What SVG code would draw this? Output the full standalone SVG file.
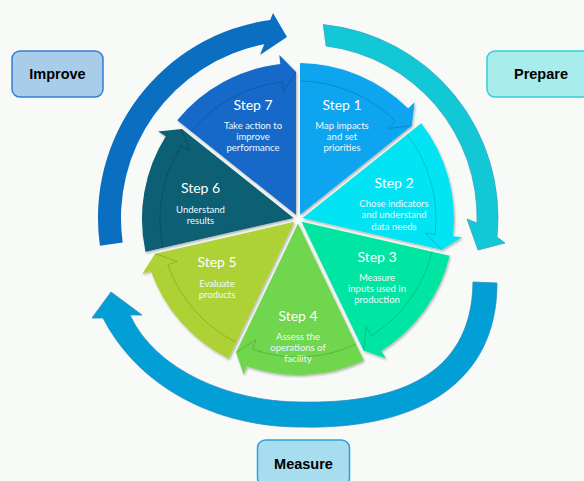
<svg xmlns="http://www.w3.org/2000/svg" width="584" height="481" viewBox="0 0 584 481">
<style>
.title{font-family:Lato,"Open Sans","Liberation Sans",sans-serif;font-size:14px;fill:#ffffff;text-anchor:middle}
.desc{font-family:Lato,"Open Sans","Liberation Sans",sans-serif;font-size:9.5px;fill:#eef8ff;text-anchor:middle}
.lbl{font-family:"Liberation Sans",Arial,sans-serif;font-weight:700;font-size:14.5px;fill:#000000;text-anchor:middle}
.band{fill:none;stroke:#000000;stroke-opacity:0.16;stroke-width:1}
.wedge{filter:url(#sh)}
</style>
<defs>
<filter id="sh" x="-10%" y="-10%" width="120%" height="120%">
<feDropShadow dx="1" dy="1.5" stdDeviation="1.2" flood-color="#000000" flood-opacity="0.3"/>
</filter>
</defs>
<rect width="584" height="481" fill="#f8faf7"/>

<g id="connectors">
<path id="arrow-improve" d="M99.9,245.8 A200,200 0 0 1 270.2,19.9 L273,13 L287,37 L260,55 L264.2,44.3 A177,177 0 0 0 122.7,242.6 Z" fill="#0b6fc1"/>
<path id="arrow-prepare" d="M323.2,24.6 A194,194 0 0 1 497,237 L505,243 L478,250 L467,219 L477,223 A173,173 0 0 0 326.1,46 Z" fill="#13c8d6" stroke="#3aa6c2" stroke-width="0.8"/>
<path id="arrow-measure" d="M497,283 C497,385 415,430 300,427 C220,427 140,390 103,318 L92,318 L111,292 L142,315 L130,315 C155,370 230,402 300,402 C390,404 472,380 473,282 Z" fill="#019fd6" stroke="#2a8cc2" stroke-width="0.8"/>
</g>

<g id="step1">
<path class="wedge" d="M300,214.85 L300,63 A156,156 0 0 1 408.17,108.55 L414.52,102.18 L411.69,125.8 Z" fill="#08a5ef"/>
<path class="band" d="M300,81 A138,138 0 0 1 395.46,121.3 L388.39,128.38 L411.69,125.8"/>
<text class="title" x="342" y="110">Step 1</text>
<text class="desc" x="342" y="129">Map impacts</text>
<text class="desc" x="342" y="140.3">and set</text>
<text class="desc" x="342" y="151">priorities</text>
</g>

<g id="step2">
<path class="wedge" d="M302.49,217.97 L421.19,123.29 A156,156 0 0 1 453.04,236.27 L461.99,237.27 L441.75,249.76 Z" fill="#00e4f3"/>
<path class="band" d="M407.13,134.53 A138,138 0 0 1 435.15,234.28 L425.21,233.17 L441.75,249.76"/>
<text class="title" x="394" y="188">Step 2</text>
<text class="desc" x="394" y="207.3">Chose indicators</text>
<text class="desc" x="394" y="218.3">and understand</text>
<text class="desc" x="394" y="229.5">data needs</text>
</g>

<g id="step3">
<path class="wedge" d="M301.6,221.87 L449.64,255.65 A156,156 0 0 1 381.16,350.99 L385.96,358.61 L363.58,350.57 Z" fill="#06e6a2"/>
<path class="band" d="M432.08,251.65 A138,138 0 0 1 371.57,335.76 L366.24,327.3 L363.58,350.57"/>
<text class="title" x="377" y="262">Step 3</text>
<text class="desc" x="377" y="281">Measure</text>
<text class="desc" x="377" y="292.2">inputs used in</text>
<text class="desc" x="377" y="303.3">production</text>
</g>

<g id="step4">
<path class="wedge" d="M298,223.61 L363.88,360.41 A156,156 0 0 1 246.66,366.31 L243.7,374.81 L236.02,352.3 Z" fill="#70d64e"/>
<path class="band" d="M356.07,344.19 A138,138 0 0 1 252.58,349.31 L255.88,339.87 L236.02,352.3"/>
<text class="title" x="298" y="321">Step 4</text>
<text class="desc" x="298" y="340">Assess the</text>
<text class="desc" x="298" y="351">operations of</text>
<text class="desc" x="298" y="362.3">facility</text>
</g>

<g id="step5">
<path class="wedge" d="M294.4,221.87 L228.53,358.68 A156,156 0 0 1 150.81,270.71 L142.32,273.7 L155.15,253.65 Z" fill="#aed236"/>
<path class="band" d="M236.33,342.45 A138,138 0 0 1 167.8,264.75 L177.23,261.43 L155.15,253.65"/>
<text class="title" x="217" y="267">Step 5</text>
<text class="desc" x="217" y="287.3">Evaluate</text>
<text class="desc" x="217" y="298.3">products</text>
</g>

<g id="step6">
<path class="wedge" d="M293.51,217.97 L145.48,251.77 A156,156 0 0 1 165.81,136.16 L158.18,131.38 L181.83,128.92 Z" fill="#075e73"/>
<path class="band" d="M163.03,247.75 A138,138 0 0 1 181.06,145.72 L189.53,151.03 L181.83,128.92"/>
<text class="title" x="200.5" y="193.3">Step 6</text>
<text class="desc" x="200.5" y="213.3">Understand</text>
<text class="desc" x="200.5" y="224.3">results</text>
</g>

<g id="step7">
<path class="wedge" d="M296,214.85 L177.27,120.21 A156,156 0 0 1 280.34,64 L279.32,55.06 L296,72.01 Z" fill="#1469c8"/>
<path class="band" d="M191.37,131.4 A138,138 0 0 1 282.38,81.89 L283.51,91.82 L296,72.01"/>
<text class="title" x="253" y="110">Step 7</text>
<text class="desc" x="253" y="129">Take action to</text>
<text class="desc" x="253" y="140.3">improve</text>
<text class="desc" x="253" y="151">performance</text>
</g>

<g id="improve">
<rect x="12" y="51" width="91" height="46" rx="8" fill="#a9cce9" stroke="#2f80d2" stroke-width="1.5"/>
<text class="lbl" x="57.5" y="79">Improve</text>
</g>
<g id="prepare">
<rect x="487" y="51" width="108" height="46" rx="8" fill="#a9ecec" stroke="#2fd0dc" stroke-width="1.5"/>
<text class="lbl" x="541" y="78.5">Prepare</text>
</g>
<g id="measure">
<rect x="257.5" y="440" width="92" height="46" rx="8" fill="#a8dcef" stroke="#27a4dd" stroke-width="1.5"/>
<text class="lbl" x="303.5" y="468.5">Measure</text>
</g>
</svg>
